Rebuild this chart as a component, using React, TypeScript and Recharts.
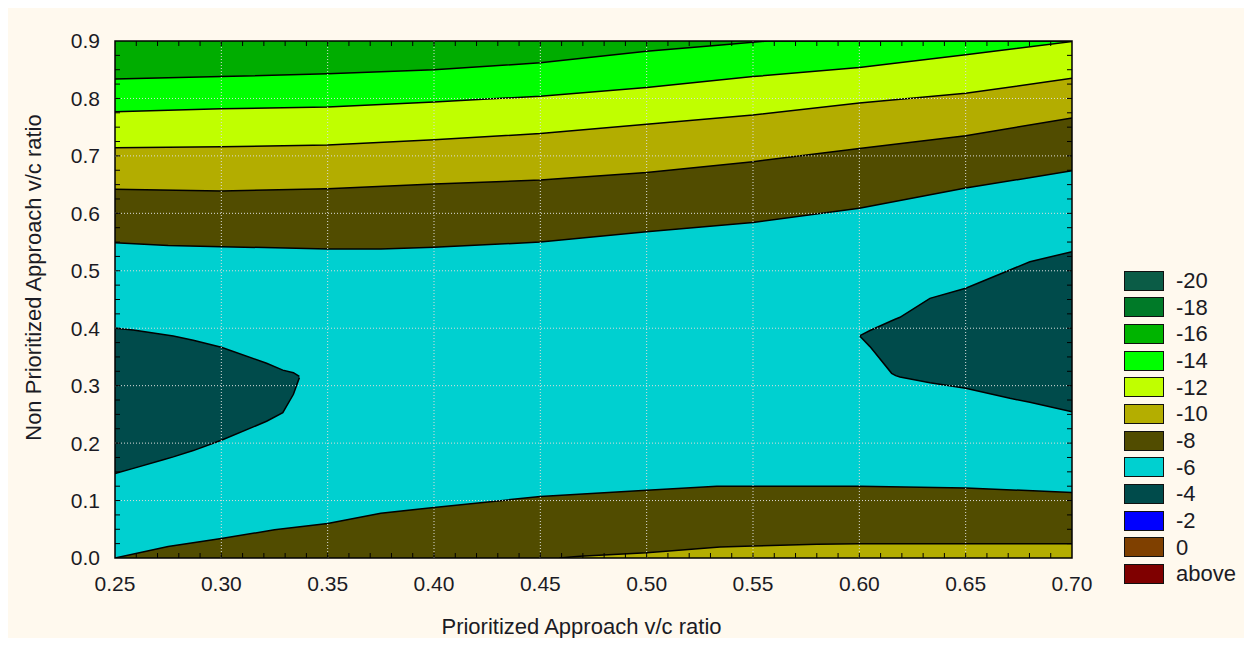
import React from 'react';
import { ComposedChart, Area, XAxis, YAxis, ReferenceLine, ReferenceArea, Legend } from 'recharts';

// ---- axes ----
const xTicks = [0.25, 0.3, 0.35, 0.4, 0.45, 0.5, 0.55, 0.6, 0.65, 0.7];
const yTicks = [0, 0.1, 0.2, 0.3, 0.4, 0.5, 0.6, 0.7, 0.8, 0.9];
const xGrid = [0.3, 0.35, 0.4, 0.45, 0.5, 0.55, 0.6, 0.65];
const yGrid = [0.1, 0.2, 0.3, 0.4, 0.5, 0.6, 0.7, 0.8];
const xMinorTicks = Array.from({ length: 44 }, (_, i) => Math.round((0.26 + i * 0.01) * 1000) / 1000);
const yMinorTicks = Array.from({ length: 35 }, (_, i) => Math.round((0.025 + i * 0.025) * 1000) / 1000);

// ---- legend ----
const legendLabels = ['-20', '-18', '-16', '-14', '-12', '-10', '-8', '-6', '-4', '-2', '0', 'above'];
const legendColors = ['#0B5C46', '#007A28', '#00B400', '#00FF00', '#C0FF00', '#B4AE00', '#514C00', '#00D0D0', '#004B4B', '#0000FF', '#7F4000', '#7F0000'];

// ---- contour boundaries (y of boundary at x) ----
// -16 | -14 boundary
const bound16 = [
  { x: 0.25, y: 0.834 }, { x: 0.3, y: 0.838 }, { x: 0.35, y: 0.843 }, { x: 0.4, y: 0.85 },
  { x: 0.45, y: 0.862 }, { x: 0.5, y: 0.882 }, { x: 0.535, y: 0.893 }, { x: 0.557, y: 0.9 }, { x: 0.7, y: 0.9 },
];
// -14 | -12 boundary
const bound14 = [
  { x: 0.25, y: 0.777 }, { x: 0.3, y: 0.782 }, { x: 0.35, y: 0.785 }, { x: 0.4, y: 0.794 },
  { x: 0.45, y: 0.804 }, { x: 0.5, y: 0.819 }, { x: 0.55, y: 0.838 }, { x: 0.6, y: 0.854 },
  { x: 0.65, y: 0.876 }, { x: 0.7, y: 0.899 },
];
// -12 | -10 boundary
const bound12 = [
  { x: 0.25, y: 0.714 }, { x: 0.3, y: 0.716 }, { x: 0.35, y: 0.719 }, { x: 0.4, y: 0.728 },
  { x: 0.45, y: 0.739 }, { x: 0.5, y: 0.755 }, { x: 0.55, y: 0.771 }, { x: 0.6, y: 0.792 },
  { x: 0.65, y: 0.809 }, { x: 0.7, y: 0.835 },
];
// -10 | -8 boundary (upper)
const bound10 = [
  { x: 0.25, y: 0.642 }, { x: 0.3, y: 0.639 }, { x: 0.35, y: 0.643 }, { x: 0.4, y: 0.651 },
  { x: 0.45, y: 0.658 }, { x: 0.5, y: 0.671 }, { x: 0.55, y: 0.69 }, { x: 0.6, y: 0.713 },
  { x: 0.65, y: 0.735 }, { x: 0.7, y: 0.766 },
];
// -8 | -6 boundary (top of cyan band)
const bound8Top = [
  { x: 0.25, y: 0.549 }, { x: 0.275, y: 0.544 }, { x: 0.3, y: 0.542 }, { x: 0.35, y: 0.538 },
  { x: 0.375, y: 0.538 }, { x: 0.4, y: 0.541 }, { x: 0.45, y: 0.55 }, { x: 0.5, y: 0.568 },
  { x: 0.55, y: 0.584 }, { x: 0.6, y: 0.609 }, { x: 0.65, y: 0.644 }, { x: 0.7, y: 0.674 },
];
// -6 | -8 boundary (bottom of cyan band)
const bound6Bottom = [
  { x: 0.25, y: 0.0 }, { x: 0.275, y: 0.02 }, { x: 0.3, y: 0.034 }, { x: 0.325, y: 0.049 },
  { x: 0.35, y: 0.06 }, { x: 0.375, y: 0.078 }, { x: 0.4, y: 0.088 }, { x: 0.45, y: 0.107 },
  { x: 0.5, y: 0.118 }, { x: 0.533, y: 0.125 }, { x: 0.6, y: 0.125 }, { x: 0.65, y: 0.122 },
  { x: 0.7, y: 0.114 },
];
// -8 | -10 boundary (bottom)
const bound8Bottom = [
  { x: 0.459, y: 0.0 }, { x: 0.4686, y: 0.003 }, { x: 0.5, y: 0.009 }, { x: 0.5345, y: 0.019 },
  { x: 0.55, y: 0.021 }, { x: 0.58, y: 0.024 }, { x: 0.6, y: 0.025 }, { x: 0.7, y: 0.025 },
];
// -4 regions
const leftBlob = [
  { x: 0.25, lo: 0.147, hi: 0.4 }, { x: 0.2586, lo: 0.156, hi: 0.397 }, { x: 0.2727, lo: 0.171, hi: 0.389 },
  { x: 0.2774, lo: 0.176, hi: 0.3865 }, { x: 0.2868, lo: 0.187, hi: 0.379 }, { x: 0.3, lo: 0.205, hi: 0.367 },
  { x: 0.3213, lo: 0.238, hi: 0.339 }, { x: 0.3289, lo: 0.253, hi: 0.327 }, { x: 0.3339, lo: 0.285, hi: 0.3226 },
  { x: 0.3367, lo: 0.314, hi: 0.316 },
];
const rightBlob = [
  { x: 0.6003, lo: 0.386, hi: 0.387 }, { x: 0.605, lo: 0.368, hi: 0.396 }, { x: 0.6152, lo: 0.3215, hi: 0.413 },
  { x: 0.6171, lo: 0.3174, hi: 0.416 }, { x: 0.6191, lo: 0.315, hi: 0.419 }, { x: 0.6332, lo: 0.305, hi: 0.452 },
  { x: 0.65, lo: 0.2954, hi: 0.4695 }, { x: 0.6708, lo: 0.278, hi: 0.5014 }, { x: 0.6802, lo: 0.271, hi: 0.5158 },
  { x: 0.7, lo: 0.2547, hi: 0.5332 },
];

const COLORS = {
  c16: '#00AD00',
  c14: '#00FF00',
  c12: '#C0FF00',
  c10: '#B3AD00',
  c8: '#514C00',
  c6: '#00D0D0',
  c4: '#004B4B',
};

const FONT = '"Liberation Sans", Arial, sans-serif';
const TEXT = '#1b1b24';
const TICK_LEN = 5;

const LegendBox = () => (
  <div style={{ fontFamily: FONT }}>
    {legendLabels.map((lab, i) => (
      <div key={lab} style={{ position: 'absolute', left: 0, top: i * 26.67, height: 21, display: 'flex', alignItems: 'center' }}>
        <div style={{ width: 38, height: 18, background: legendColors[i], border: '1.5px solid #111' }} />
        <span style={{ marginLeft: 12, fontSize: 22, color: TEXT, lineHeight: '21px' }}>{lab}</span>
      </div>
    ))}
  </div>
);

// inward tick marks at both ends of a reference line spanning the plot
const InwardTicks = (p: any) => {
  const { x1, y1, x2, y2 } = p;
  if ([x1, y1, x2, y2].some((v) => typeof v !== 'number' || isNaN(v))) return <g />;
  if (Math.abs(x1 - x2) < 0.5) {
    const top = Math.min(y1, y2);
    const bot = Math.max(y1, y2);
    return (
      <g stroke="#000" strokeWidth={1}>
        <line x1={x1} y1={bot} x2={x1} y2={bot - TICK_LEN} />
        <line x1={x1} y1={top} x2={x1} y2={top + TICK_LEN} />
      </g>
    );
  }
  const left = Math.min(x1, x2);
  const right = Math.max(x1, x2);
  return (
    <g stroke="#000" strokeWidth={1}>
      <line x1={left} y1={y1} x2={left + TICK_LEN} y2={y1} />
      <line x1={right} y1={y1} x2={right - TICK_LEN} y2={y1} />
    </g>
  );
};

const areaCommon = {
  type: 'linear' as const,
  stroke: '#000',
  strokeWidth: 1.5,
  fillOpacity: 1,
  dot: false,
  activeDot: false,
  isAnimationActive: false,
};

export default function App() {
  return (
    <div style={{ width: 1244, height: 638, background: '#FFF9EE', marginBottom: -8, fontFamily: FONT }}>
      <ComposedChart width={1244} height={638} margin={{ top: 33, right: 180, bottom: 0, left: 0 }}>
        <XAxis type="number" dataKey="x" domain={[0.25, 0.7]} ticks={xTicks} interval={0} allowDataOverflow
          tickFormatter={(v: number) => v.toFixed(2)} height={88} tickLine={false} axisLine={false}
          tickSize={0} tickMargin={18} tick={{ fontSize: 21, fill: TEXT, fontFamily: FONT }}
          label={(p: any) => {
            const vb = p.viewBox || {};
            return (
              <text x={vb.x + vb.width / 2 - 12} y={vb.y + 76} textAnchor="middle" fontSize={22} fill={TEXT} fontFamily={FONT}>
                Prioritized Approach v/c ratio
              </text>
            );
          }} />
        <YAxis type="number" domain={[0, 0.9]} ticks={yTicks} interval={0} allowDataOverflow
          tickFormatter={(v: number) => v.toFixed(1)} width={107} tickLine={false} axisLine={false}
          tickSize={0} tickMargin={15} tick={{ fontSize: 21, fill: TEXT, fontFamily: FONT }}
          label={(p: any) => {
            const vb = p.viewBox || {};
            const cx = vb.x + 33;
            const cy = vb.y + vb.height / 2 - 22;
            return (
              <text x={cx} y={cy} transform={`rotate(-90, ${cx}, ${cy})`} textAnchor="middle" fontSize={22} fill={TEXT} fontFamily={FONT}>
                Non Prioritized Approach v/c ratio
              </text>
            );
          }} />

        {/* background band (-16) */}
        <ReferenceArea x1={0.25} x2={0.7} y1={0} y2={0.9} fill={COLORS.c16} fillOpacity={1} stroke="none" />

        <Area {...areaCommon} data={bound16} dataKey="y" fill={COLORS.c14} />
        <Area {...areaCommon} data={bound14} dataKey="y" fill={COLORS.c12} />
        <Area {...areaCommon} data={bound12} dataKey="y" fill={COLORS.c10} />
        <Area {...areaCommon} data={bound10} dataKey="y" fill={COLORS.c8} />
        <Area {...areaCommon} data={bound8Top} dataKey="y" fill={COLORS.c6} />
        <Area {...areaCommon} data={bound6Bottom} dataKey="y" fill={COLORS.c8} />
        <Area {...areaCommon} data={bound8Bottom} dataKey="y" fill={COLORS.c10} />
        <Area {...areaCommon} data={leftBlob} dataKey={(d: any) => [d.lo, d.hi]} fill={COLORS.c4} />
        <Area {...areaCommon} data={rightBlob} dataKey={(d: any) => [d.lo, d.hi]} fill={COLORS.c4} />

        {xGrid.map((v) => (
          <ReferenceLine key={'gx' + v} x={v} stroke="#dcdcdc" strokeDasharray="1 2" strokeWidth={1} />
        ))}
        {yGrid.map((v) => (
          <ReferenceLine key={'gy' + v} y={v} stroke="#dcdcdc" strokeDasharray="1 2" strokeWidth={1} />
        ))}

        {/* inner minor tick marks on all four sides */}
        {xMinorTicks.map((v) => (
          <ReferenceLine key={'tx' + v} x={v} shape={InwardTicks} />
        ))}
        {yMinorTicks.map((v) => (
          <ReferenceLine key={'ty' + v} y={v} shape={InwardTicks} />
        ))}

        <ReferenceArea x1={0.25} x2={0.7} y1={0} y2={0.9} fill="none" stroke="#000" strokeWidth={1.5} />

        <Legend layout="vertical" align="center" verticalAlign="middle"
          wrapperStyle={{ left: 1116, top: 262, width: 130, height: 320 }} content={() => <LegendBox />} />
      </ComposedChart>
    </div>
  );
}
